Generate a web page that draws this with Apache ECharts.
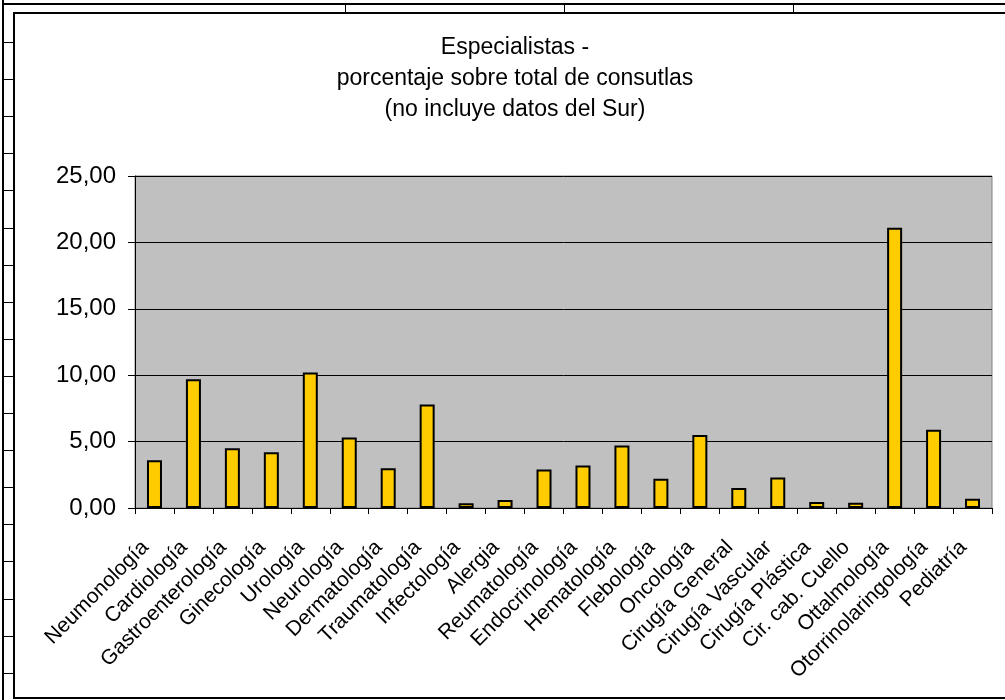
<!DOCTYPE html>
<html>
<head>
<meta charset="utf-8">
<script src="https://cdn.jsdelivr.net/npm/echarts@6/dist/echarts.min.js"></script>
<style>
  html, body { margin: 0; padding: 0; background: #fff; }
  #chart { width: 1005px; height: 700px; }
</style>
</head>
<body>
<div id="chart"></div>
<script>
// Specialties shown on the category axis
const categories = [
  'Neumonología', 'Cardiología', 'Gastroenterología', 'Ginecología', 'Urología',
  'Neurología', 'Dermatología', 'Traumatología', 'Infectología', 'Alergia',
  'Reumatología', 'Endocrinología', 'Hematología', 'Flebología', 'Oncología',
  'Cirugía General', 'Cirugía Vascular', 'Cirugía Plástica', 'Cir. cab. Cuello',
  'Ottalmología', 'Otorrinolaringología', 'Pediatría'
];

// Share of total consultations (%) per specialty
const percentages = [
  3.6, 9.7, 4.5, 4.2, 10.2,
  5.3, 3.0, 7.8, 0.35, 0.6,
  2.9, 3.2, 4.7, 2.2, 5.5,
  1.5, 2.3, 0.45, 0.4,
  21.1, 5.9, 0.7
];

const titleLines = [
  'Especialistas -',
  'porcentaje sobre total de consutlas',
  '(no incluye datos del Sur)'
];

const FONT = '"Liberation Sans", Arial, sans-serif';

// Worksheet cell borders around the embedded chart
const sheetLines = [];
const line = (x1, y1, x2, y2, w) => sheetLines.push({
  type: 'line', silent: true,
  shape: { x1, y1, x2, y2 },
  style: { stroke: '#000', lineWidth: w }
});
line(3, 0, 3, 700, 2);
line(3, 4, 1005, 4, 2);
[345.5, 564.5, 793.5].forEach(x => line(x, 4, x, 13, 1));
for (let k = 0; k < 18; k++) {
  const y = Math.round(42 + 37.1 * k) + 0.5;
  line(3, y, 14, y, 1);
}
sheetLines.push({
  type: 'rect', silent: true,
  shape: { x: 14, y: 13, width: 1010, height: 685 },
  style: { fill: '#fff', stroke: '#000', lineWidth: 2 },
  z: -1
});

const chart = echarts.init(document.getElementById('chart'), null, { renderer: 'canvas' });
chart.setOption({
  animation: false,
  backgroundColor: '#fff',
  graphic: { elements: sheetLines },
  title: {
    text: titleLines.join('\n'),
    left: 510,
    top: 27,
    textAlign: 'center',
    textStyle: {
      fontFamily: FONT,
      fontSize: 23,
      fontWeight: 'normal',
      color: '#000',
      lineHeight: 31
    }
  },
  grid: {
    left: 135,
    right: 13,
    top: 176,
    bottom: 192,
    show: true,
    backgroundColor: '#C0C0C0',
    borderColor: '#808080',
    borderWidth: 1
  },
  xAxis: {
    type: 'category',
    data: categories,
    axisLine: { show: true, lineStyle: { color: '#000', width: 1 } },
    axisTick: { show: true, length: 6, lineStyle: { color: '#000' } },
    axisLabel: {
      rotate: 45,
      interval: 0,
      margin: 27,
      padding: [0, 13, 0, 0],
      fontFamily: FONT,
      fontSize: 21,
      color: '#000'
    }
  },
  yAxis: {
    type: 'value',
    min: 0,
    max: 25,
    interval: 5,
    axisLine: { show: true, lineStyle: { color: '#000', width: 1 } },
    axisTick: { show: true, length: 7, lineStyle: { color: '#000' } },
    axisLabel: {
      margin: 19,
      fontFamily: FONT,
      fontSize: 24,
      color: '#000',
      formatter: v => v.toFixed(2).replace('.', ',')
    },
    splitLine: { show: true, lineStyle: { color: '#000', width: 1 } }
  },
  series: [{
    type: 'bar',
    data: percentages,
    barWidth: 15,
    itemStyle: {
      color: '#FFCC00',
      borderColor: '#000',
      borderWidth: 2
    }
  }]
});
</script>
</body>
</html>
